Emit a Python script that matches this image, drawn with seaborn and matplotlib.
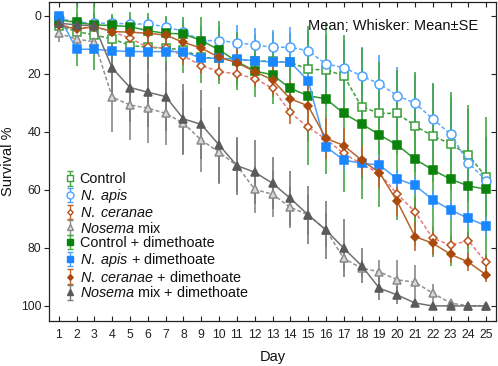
import matplotlib; matplotlib.use("Agg")
import matplotlib.pyplot as plt
import numpy as np
import pandas as pd
import seaborn as sns

# ──────────────────────────────────────────────────────────
# Data
# ──────────────────────────────────────────────────────────
days = list(range(1, 26))

control = [3.4, 5.4, 6.6, 7.9, 10.2, 10.8, 11.1, 11.7, 14.3, 14.6, 15.2, 15.4, 15.7,
           16.0, 18.4, 18.6, 20.6, 31.3, 33.6, 33.6, 37.9, 41.4, 44.1, 48.0, 55.6]
control_se = [2, 12, 12, 8, 8, 8, 8, 8, 9, 9, 9, 9, 10, 10, 12, 12, 12, 14, 14, 14,
              16, 16, 16, 16, 14]

apis = [0.8, 2.2, 2.5, 2.5, 2.8, 2.8, 3.7, 5.4, 8.5, 8.5, 9.2, 10.0, 10.8, 10.8, 12.0,
        16.6, 17.8, 20.7, 23.4, 27.5, 30.1, 35.5, 40.8, 50.6, 56.8]
apis_se = [1, 2, 2, 2, 2.5, 2.5, 3, 4, 5, 5, 6, 6, 6, 7, 7, 10, 9, 10, 10, 10, 10, 12,
           9, 8, 8]

ceranae = [3.1, 4.3, 3.7, 5.4, 7.7, 10.8, 11.1, 13.8, 17.1, 19.2, 20.0, 21.6, 24.9,
           33.3, 38.4, 42.5, 47.4, 51.1, 54.3, 61.4, 67.5, 76.7, 79.0, 77.5, 85.0]
ceranae_se = [1, 2, 2, 2, 2, 3, 3, 3, 3, 3, 3, 3, 3, 4, 5, 4, 5, 5, 5, 5, 5, 4, 3, 3, 3]

mix = [6.0, 8.0, 8.9, 28.0, 30.7, 31.8, 33.6, 37.0, 42.8, 47.0, 51.6, 59.8, 61.5, 66.0,
       68.6, 73.8, 83.6, 87.0, 88.2, 91.0, 91.8, 95.6, 99.0, 100.0, 100.0]
mix_se = [3, 3, 3, 12, 12, 12, 11, 11, 11, 11, 9, 8, 8, 7, 7, 6, 4, 3, 4, 7, 6, 3, 1,
          0, 0]

control_dim = [1.4, 2.2, 3.1, 3.3, 3.7, 5.1, 6.0, 6.2, 8.5, 11.7, 15.7, 19.0, 20.3,
               25.0, 27.5, 28.6, 33.6, 37.2, 41.0, 44.5, 49.4, 53.1, 56.3, 58.6, 59.8]
control_dim_se = [1.5, 3, 4, 4, 5, 6, 6, 6, 8, 10, 10, 9, 10, 10, 24, 26, 27, 26, 25,
                  26, 30, 30, 30, 28, 25]

apis_dim = [0.0, 11.5, 11.5, 12.0, 12.3, 12.3, 12.3, 12.3, 14.6, 14.6, 14.9, 15.5, 15.9,
            16.0, 22.3, 45.1, 49.7, 50.8, 51.4, 56.2, 58.4, 63.4, 66.9, 69.8, 72.4]
apis_dim_se = [0.5, 1, 1, 1, 1, 1, 1, 1, 1.5, 1.5, 1.5, 1.5, 2, 2, 3, 3, 3, 3, 3, 3, 3,
               3, 3, 3, 3]

ceranae_dim = [3.1, 4.6, 3.7, 5.4, 5.6, 6.0, 6.6, 9.1, 11.1, 14.3, 16.1, 19.2, 22.1,
               28.6, 31.0, 42.2, 44.7, 49.7, 54.0, 63.9, 76.1, 78.4, 82.2, 84.9, 89.3]
ceranae_dim_se = [1.5, 2, 2, 3, 3, 3, 3, 4, 4, 5, 5, 5, 5, 6, 8, 7, 6, 5, 5, 5, 5, 4, 3,
                  3, 2.5]

mix_dim = [2.5, 3.1, 3.4, 18.0, 24.7, 26.3, 27.8, 35.5, 37.4, 44.5, 51.6, 53.9, 57.7,
           62.9, 68.6, 73.8, 80.1, 86.1, 93.9, 96.2, 99.0, 100.0, 100.0, 100.0, 100.0]
mix_dim_se = [2, 2, 2, 10, 12, 12, 12, 12, 12, 13, 10, 11, 9, 9.5, 10, 10, 10, 6, 4, 3,
              1, 0, 0, 0, 0]

y_ticks = [0, 20, 40, 60, 80, 100]

DASH = (0, (2.5, 1.5))
# label, mean, se, marker, ms, face, edge, line colour, whisker colour, linestyle
SERIES = [
    ("Control", control, control_se, "s", 6.0, "white", "#3a9f3a", "#3a9f3a", "#46a846", DASH),
    (r"$\it{N.\ apis}$", apis, apis_se, "o", 6.5, "white", "#4da3ff", "#5aaaff", "#4da3ff", DASH),
    (r"$\it{N.\ ceranae}$", ceranae, ceranae_se, "D", 4.3, "white", "#b8521c", "#e77a7a", "#c0642a", DASH),
    (r"$\it{Nosema}$ mix", mix, mix_se, "^", 5.5, "#d8d8d8", "#8a8a8a", "#909090", "#8a8a8a", DASH),
    ("Control + dimethoate", control_dim, control_dim_se, "s", 6.0, "#0b820b", "#0b820b", "#2f9a2f", "#46a846", "-"),
    (r"$\it{N.\ apis}$ + dimethoate", apis_dim, apis_dim_se, "s", 6.0, "#1a86ff", "#1a86ff", "#4a9fff", "#4da3ff", "-"),
    (r"$\it{N.\ ceranae}$ + dimethoate", ceranae_dim, ceranae_dim_se, "D", 4.3, "#a9490c", "#a9490c", "#b5662e", "#c0642a", "-"),
    (r"$\it{Nosema}$ mix + dimethoate", mix_dim, mix_dim_se, "^", 5.5, "#5a5a5a", "#5a5a5a", "#707070", "#7a7a7a", "-"),
]

# ──────────────────────────────────────────────────────────
# Style
# ──────────────────────────────────────────────────────────
sns.set_theme(style="ticks")
plt.rcParams.update({
    "font.family": ["Liberation Sans", "DejaVu Sans"],
    "mathtext.fontset": "custom",
    "mathtext.rm": "Liberation Sans",
    "mathtext.it": "Liberation Sans:italic",
    "axes.unicode_minus": False,
    "axes.edgecolor": "#222222",
    "axes.linewidth": 0.9,
})

fig = plt.figure(figsize=(4.98, 3.66), dpi=100)
ax = fig.add_axes([49 / 498, 45 / 366, 447 / 498, 319 / 366])

handles = []
for i, (label, mean, se, mk, ms, face, edge, lc, wc, ls) in enumerate(SERIES):
    df = pd.DataFrame({"day": days, "value": mean})
    ax.errorbar(days, mean, yerr=se, fmt="none", ecolor=wc, elinewidth=1.2,
                capsize=0, zorder=1 + i * 0.01)
    sns.lineplot(data=df, x="day", y="value", ax=ax, color=lc, linestyle=ls,
                 linewidth=1.1, marker=mk, markersize=ms, markerfacecolor=face,
                 markeredgecolor=edge, markeredgewidth=1.1, errorbar=None,
                 legend=False, zorder=3 + i * 0.01)
    # legend proxy: marker with a capped whisker, as in the reference
    h = ax.errorbar([np.nan], [np.nan], yerr=[1], fmt=mk, ms=ms - 1.5, mfc=face,
                    mec=edge, mew=1.0, ecolor=wc, elinewidth=1.0, capsize=2.2,
                    capthick=1.0, label=label)
    handles.append(h)

ax.set_xlim(0.45, 25.55)
ax.set_ylim(105.2, -4.8)
ax.set_xticks(days)
ax.set_yticks(y_ticks)
ax.tick_params(axis="x", direction="in", length=3.5, width=0.8, labelsize=8.8,
               pad=6, top=True, colors="#222222")
ax.tick_params(axis="y", direction="out", length=3.5, width=0.8, labelsize=8.8,
               pad=2, right=True, colors="#222222")
# right-hand ticks point inward, left-hand ones outward
for tl in ax.yaxis.get_ticklines()[1::2]:
    tl.set_marker(matplotlib.lines.TICKLEFT)
for s in ["top", "right", "bottom", "left"]:
    ax.spines[s].set_visible(True)

ax.set_xlabel("Day", fontsize=10.5, labelpad=6, color="#111111")
ax.set_ylabel("Survival %", fontsize=10.5, labelpad=4, color="#111111")

ax.text(0.96, 0.925, "Mean; Whisker: Mean\u00b1SE", transform=ax.transAxes,
        ha="right", va="center", fontsize=10.5, color="#111111")

leg = ax.legend(handles=handles, loc="upper left", bbox_to_anchor=(0.033, 0.466),
                frameon=False, fontsize=10.4, handlelength=0.8, handletextpad=0.3,
                labelspacing=0.05, borderpad=0, borderaxespad=0)
for t in leg.get_texts():
    t.set_color("#111111")

fig.savefig("out.png", dpi=100)
plt.close(fig)
